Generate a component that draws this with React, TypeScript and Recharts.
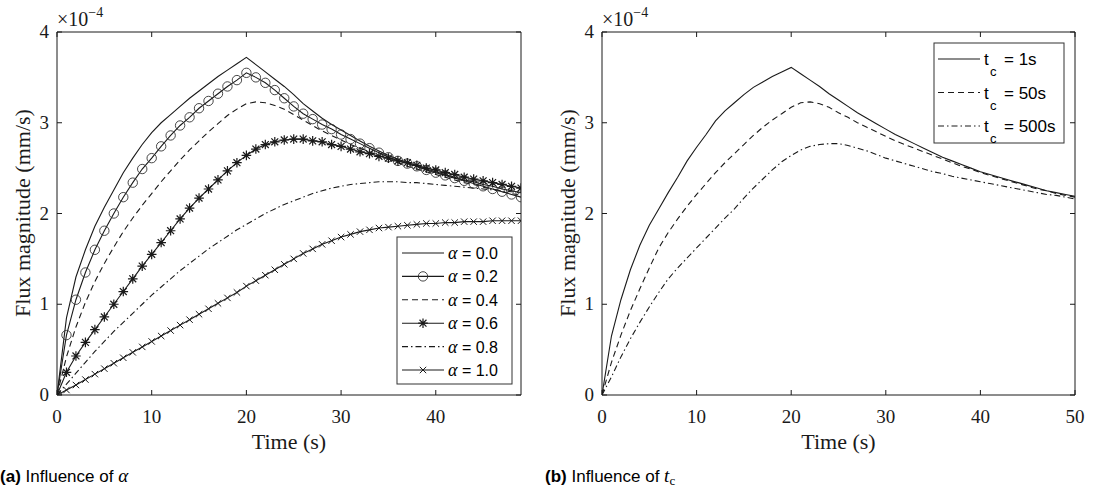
import { LineChart, Line, XAxis, YAxis } from 'recharts';

const SERIF = '"Liberation Serif", "Times New Roman", serif';
const SANS = '"Liberation Sans", Arial, sans-serif';
const INK = '#1a1a1a';

// flux values in units of 1e-4 mm/s
const TIME_A = [0, 1, 2, 3, 4, 5, 6, 7, 8, 9, 10, 11, 12, 13, 14, 15, 16, 17, 18, 19, 20, 21, 22, 23, 24, 25, 26, 27, 28, 29, 30, 31, 32, 33, 34, 35, 36, 37, 38, 39, 40, 41, 42, 43, 44, 45, 46, 47, 48, 49];
const A00 = [0, 0.85, 1.3, 1.6, 1.86, 2.07, 2.26, 2.45, 2.61, 2.76, 2.89, 3.0, 3.09, 3.18, 3.27, 3.35, 3.43, 3.51, 3.58, 3.65, 3.72, 3.64, 3.56, 3.48, 3.4, 3.31, 3.21, 3.13, 3.05, 2.98, 2.92, 2.86, 2.8, 2.74, 2.69, 2.64, 2.6, 2.56, 2.52, 2.49, 2.46, 2.43, 2.4, 2.37, 2.35, 2.32, 2.3, 2.27, 2.25, 2.23];
const A02 = [0, 0.66, 1.05, 1.35, 1.6, 1.81, 2.0, 2.18, 2.34, 2.49, 2.61, 2.74, 2.86, 2.97, 3.06, 3.16, 3.24, 3.32, 3.4, 3.47, 3.55, 3.5, 3.44, 3.36, 3.27, 3.18, 3.1, 3.04, 2.98, 2.93, 2.87, 2.82, 2.77, 2.72, 2.67, 2.62, 2.58, 2.55, 2.52, 2.48, 2.45, 2.42, 2.39, 2.36, 2.33, 2.3, 2.27, 2.24, 2.21, 2.18];
const A04 = [0, 0.42, 0.75, 1.02, 1.25, 1.45, 1.63, 1.8, 1.95, 2.09, 2.22, 2.35, 2.47, 2.59, 2.7, 2.8, 2.9, 2.99, 3.08, 3.15, 3.21, 3.23, 3.22, 3.19, 3.15, 3.09, 3.03, 2.97, 2.91, 2.86, 2.81, 2.76, 2.72, 2.68, 2.64, 2.6, 2.56, 2.52, 2.49, 2.46, 2.43, 2.4, 2.37, 2.34, 2.32, 2.29, 2.27, 2.24, 2.22, 2.2];
const A06 = [0, 0.25, 0.43, 0.58, 0.72, 0.86, 1.0, 1.14, 1.28, 1.42, 1.55, 1.68, 1.81, 1.94, 2.06, 2.17, 2.27, 2.37, 2.47, 2.56, 2.64, 2.71, 2.76, 2.79, 2.81, 2.82, 2.82, 2.8, 2.79, 2.76, 2.74, 2.71, 2.68, 2.66, 2.63, 2.61, 2.58, 2.56, 2.53, 2.5, 2.48, 2.45, 2.43, 2.4, 2.38, 2.36, 2.34, 2.32, 2.3, 2.28];
const A08 = [0, 0.12, 0.24, 0.36, 0.48, 0.59, 0.7, 0.8, 0.9, 1.0, 1.1, 1.19, 1.28, 1.37, 1.45, 1.53, 1.61, 1.68, 1.75, 1.82, 1.88, 1.94, 2.0, 2.05, 2.1, 2.14, 2.18, 2.22, 2.25, 2.28, 2.3, 2.32, 2.33, 2.34, 2.35, 2.35, 2.35, 2.34, 2.34, 2.33, 2.32, 2.31, 2.3, 2.29, 2.28, 2.27, 2.26, 2.25, 2.24, 2.23];
const A10 = [0, 0.055, 0.11, 0.17, 0.23, 0.29, 0.35, 0.41, 0.47, 0.53, 0.59, 0.65, 0.71, 0.77, 0.83, 0.89, 0.95, 1.01, 1.07, 1.13, 1.2, 1.26, 1.32, 1.38, 1.44, 1.5, 1.56, 1.61, 1.66, 1.7, 1.74, 1.77, 1.8, 1.82, 1.84, 1.85, 1.86, 1.87, 1.88, 1.89, 1.89, 1.9, 1.9, 1.91, 1.91, 1.91, 1.92, 1.92, 1.92, 1.92];

const TIME_B = [0, 1, 2, 3, 4, 5, 6, 7, 8, 9, 10, 11, 12, 13, 14, 15, 16, 17, 18, 19, 20, 21, 22, 23, 24, 25, 26, 27, 28, 29, 30, 31, 32, 33, 34, 35, 36, 37, 38, 39, 40, 41, 42, 43, 44, 45, 46, 47, 48, 49, 50];
const TC1 = [0, 0.65, 1.05, 1.38, 1.65, 1.87, 2.05, 2.23, 2.4, 2.58, 2.73, 2.87, 3.02, 3.13, 3.22, 3.31, 3.39, 3.45, 3.51, 3.56, 3.61, 3.54, 3.47, 3.4, 3.32, 3.25, 3.18, 3.11, 3.05, 2.99, 2.93, 2.87, 2.82, 2.77, 2.72, 2.67, 2.62, 2.58, 2.54, 2.5, 2.46, 2.43, 2.4, 2.37, 2.34, 2.31, 2.28, 2.25, 2.23, 2.21, 2.19];
const TC50 = [0, 0.36, 0.66, 0.93, 1.17, 1.4, 1.62, 1.79, 1.94, 2.08, 2.21, 2.33, 2.45, 2.56, 2.66, 2.76, 2.86, 2.95, 3.03, 3.1, 3.17, 3.22, 3.23, 3.21, 3.17, 3.11, 3.06, 3.0, 2.95, 2.9, 2.85, 2.8, 2.76, 2.72, 2.68, 2.64, 2.6, 2.56, 2.52, 2.49, 2.45, 2.42, 2.39, 2.36, 2.33, 2.3, 2.27, 2.25, 2.22, 2.2, 2.18];
const TC500 = [0, 0.2, 0.42, 0.62, 0.8, 0.97, 1.13, 1.28, 1.4, 1.51, 1.62, 1.73, 1.84, 1.95, 2.05, 2.17, 2.28, 2.38, 2.48, 2.57, 2.64, 2.7, 2.74, 2.76, 2.77, 2.77, 2.75, 2.72, 2.69, 2.65, 2.61, 2.58, 2.55, 2.52, 2.49, 2.46, 2.44, 2.41, 2.39, 2.37, 2.35, 2.33, 2.31, 2.29, 2.27, 2.25, 2.23, 2.21, 2.2, 2.18, 2.16];

const ALPHA_LABELS = ['0.0', '0.2', '0.4', '0.6', '0.8', '1.0'];
const TC_LABELS = ['1s', '50s', '500s'];
const X_TICKS_A = [0, 10, 20, 30, 40];
const X_TICKS_B = [0, 10, 20, 30, 40, 50];
const Y_TICKS = [0, 1, 2, 3, 4];

const dataA = TIME_A.map((t, i) => ({ t, a00: A00[i], a02: A02[i], a04: A04[i], a06: A06[i], a08: A08[i], a10: A10[i] }));
const dataB = TIME_B.map((t, i) => ({ t, tc1: TC1[i], tc50: TC50[i], tc500: TC500[i] }));

const DASH = '6 4';
const DASHDOT = '6 3 1.5 3';

type Kind = 'none' | 'circle' | 'star' | 'cross';

const SERIES_A: { key: string; dash?: string; marker: Kind }[] = [
  { key: 'a00', marker: 'none' },
  { key: 'a02', marker: 'circle' },
  { key: 'a04', dash: DASH, marker: 'none' },
  { key: 'a06', marker: 'star' },
  { key: 'a08', dash: DASHDOT, marker: 'none' },
  { key: 'a10', marker: 'cross' },
];
const SERIES_B: { key: string; dash?: string }[] = [
  { key: 'tc1' },
  { key: 'tc50', dash: DASH },
  { key: 'tc500', dash: DASHDOT },
];

function Marker({ kind, cx, cy }: { kind: Kind; cx: number; cy: number }) {
  if (kind === 'circle') return <circle cx={cx} cy={cy} r={4.7} fill="none" stroke="#333" strokeWidth={0.9} />;
  if (kind === 'cross') {
    const r = 3.2;
    return (
      <path d={`M${cx - r},${cy - r}L${cx + r},${cy + r}M${cx - r},${cy + r}L${cx + r},${cy - r}`} stroke={INK} strokeWidth={1} />
    );
  }
  if (kind === 'star') {
    const r = 4.8;
    const d = r * 0.72;
    return (
      <path
        d={`M${cx - r},${cy}L${cx + r},${cy}M${cx},${cy - r}L${cx},${cy + r}M${cx - d},${cy - d}L${cx + d},${cy + d}M${cx - d},${cy + d}L${cx + d},${cy - d}`}
        stroke={INK}
        strokeWidth={1.2}
      />
    );
  }
  return null;
}

const bottomTick = (p: any) => (
  <g>
    <line x1={p.x} x2={p.x} y1={p.y} y2={p.y - 5} stroke={INK} />
    <text x={p.x} y={p.y + 28} textAnchor="middle" fontFamily={SERIF} fontSize={19} fill={INK}>
      {p.payload.value}
    </text>
  </g>
);
const topTick = (p: any) => <line x1={p.x} x2={p.x} y1={p.y} y2={p.y + 5} stroke={INK} />;
const leftTick = (p: any) => (
  <g>
    <line x1={p.x} x2={p.x + 5} y1={p.y} y2={p.y} stroke={INK} />
    <text x={p.x - 8} y={p.y + 6} textAnchor="end" fontFamily={SERIF} fontSize={19} fill={INK}>
      {p.payload.value}
    </text>
  </g>
);
const rightTick = (p: any) => <line x1={p.x} x2={p.x - 5} y1={p.y} y2={p.y} stroke={INK} />;

// axes are 1px thick; the box is closed by top and right axes
function axes(xMax: number, xTicks: number[]) {
  const common = { type: 'number' as const, dataKey: 't', domain: [0, xMax], ticks: xTicks, allowDataOverflow: true, height: 1, tickSize: 0, tickMargin: 0, tickLine: false, interval: 0 as const, axisLine: { stroke: INK } };
  const ycommon = { type: 'number' as const, domain: [0, 4], ticks: Y_TICKS, allowDataOverflow: true, width: 1, tickSize: 0, tickMargin: 0, tickLine: false, interval: 0 as const, axisLine: { stroke: INK } };
  return [
    <XAxis key="xb" xAxisId="b" {...common} tick={bottomTick} />,
    <XAxis key="xt" xAxisId="t" orientation="top" {...common} tick={topTick} />,
    <YAxis key="yl" yAxisId="l" {...ycommon} tick={leftTick} />,
    <YAxis key="yr" yAxisId="r" orientation="right" {...ycommon} tick={rightTick} />,
  ];
}

function LeftChart() {
  return (
    <LineChart width={545} height={490} data={dataA} margin={{ top: 31, right: 23, bottom: 94, left: 56 }}>
      {axes(49, X_TICKS_A)}
      {SERIES_A.map((s) => (
        <Line
          key={s.key}
          xAxisId="b"
          yAxisId="l"
          dataKey={s.key}
          type="linear"
          stroke={INK}
          strokeWidth={1.1}
          strokeDasharray={s.dash}
          isAnimationActive={false}
          dot={
            s.marker === 'none'
              ? false
              : (p: any) => <Marker key={`${s.key}-${p.index}`} kind={s.marker} cx={p.cx} cy={p.cy} />
          }
          activeDot={false}
        />
      ))}
    </LineChart>
  );
}

function RightChart() {
  return (
    <LineChart width={548} height={490} data={dataB} margin={{ top: 31, right: 17, bottom: 94, left: 56 }}>
      {axes(50, X_TICKS_B)}
      {SERIES_B.map((s) => (
        <Line
          key={s.key}
          xAxisId="b"
          yAxisId="l"
          dataKey={s.key}
          type="linear"
          stroke={INK}
          strokeWidth={1.1}
          strokeDasharray={s.dash}
          isAnimationActive={false}
          dot={false}
          activeDot={false}
        />
      ))}
    </LineChart>
  );
}

function Labels({ dx, caption }: { dx: number; caption: 'a' | 'b' }) {
  const plotL = 57 + dx;
  const plotR = caption === 'a' ? 521 : 1075;
  return (
    <g>
      <text x={plotL} y={26} fontFamily={SERIF} fontSize={20} fill={INK}>
        ×10<tspan dy={-9} fontSize={14}>−4</tspan>
      </text>
      <text
        transform={`translate(${22 + dx},213) rotate(-90)`}
        textAnchor="middle"
        dominantBaseline="central"
        fontFamily={SERIF}
        fontSize={22}
        fill={INK}
      >
        Flux magnitude (mm/s)
      </text>
      <text x={(plotL + plotR) / 2} y={449} textAnchor="middle" fontFamily={SERIF} fontSize={22} fill={INK}>
        Time (s)
      </text>
      <text x={dx} y={482} fontFamily={SANS} fontSize={17} fill="#000">
        <tspan fontWeight="bold">({caption})</tspan> Influence of{' '}
        {caption === 'a' ? (
          <tspan fontFamily={SERIF} fontStyle="italic" fontSize={19}>α</tspan>
        ) : (
          <>
            <tspan fontFamily={SERIF} fontStyle="italic" fontSize={19}>t</tspan>
            <tspan fontFamily={SERIF} fontSize={13} dy={3}>c</tspan>
          </>
        )}
      </text>
    </g>
  );
}

function LegendA() {
  const x0 = 397, y0 = 237, w = 115, h = 147, row = 23.4;
  return (
    <g>
      <rect x={x0} y={y0} width={w} height={h} fill="#fff" stroke="#333" strokeWidth={1} />
      {SERIES_A.map((s, i) => {
        const cy = y0 + 16 + i * row;
        return (
          <g key={s.key}>
            <line x1={x0 + 5} x2={x0 + 47} y1={cy} y2={cy} stroke={INK} strokeWidth={1.1} strokeDasharray={s.dash} />
            <Marker kind={s.marker} cx={x0 + 26} cy={cy} />
            <text x={x0 + 51} y={cy + 6} fontSize={16} fill="#000">
              <tspan fontFamily={SERIF} fontStyle="italic" fontSize={18}>α</tspan>
              <tspan fontFamily={SANS}> = {ALPHA_LABELS[i]}</tspan>
            </text>
          </g>
        );
      })}
    </g>
  );
}

function LegendB() {
  const x0 = 934, y0 = 43, w = 130, h = 100, row = 33.5;
  return (
    <g>
      <rect x={x0} y={y0} width={w} height={h} fill="#fff" stroke="#333" strokeWidth={1} />
      {SERIES_B.map((s, i) => {
        const cy = y0 + 16 + i * row;
        return (
          <g key={s.key}>
            <line x1={x0 + 4} x2={x0 + 46} y1={cy} y2={cy} stroke={INK} strokeWidth={1.1} strokeDasharray={s.dash} />
            <text x={x0 + 50} y={cy + 6} fontFamily={SANS} fontSize={17} fill="#000">t</text>
            <text x={x0 + 56} y={cy + 17} fontFamily={SANS} fontSize={13} fill="#000">c</text>
            <text x={x0 + 70} y={cy + 6} fontFamily={SANS} fontSize={17} fill="#000">= {TC_LABELS[i]}</text>
          </g>
        );
      })}
    </g>
  );
}

export default function App() {
  return (
    <div style={{ position: 'absolute', left: 0, top: 0, width: 1093, height: 490, background: '#fff', overflow: 'hidden' }}>
      <div style={{ position: 'absolute', left: 0, top: 0 }}>
        <LeftChart />
      </div>
      <div style={{ position: 'absolute', left: 545, top: 0 }}>
        <RightChart />
      </div>
      <svg width={1093} height={490} style={{ position: 'absolute', left: 0, top: 0, pointerEvents: 'none' }}>
        <Labels dx={0} caption="a" />
        <Labels dx={545} caption="b" />
        <LegendA />
        <LegendB />
      </svg>
    </div>
  );
}
